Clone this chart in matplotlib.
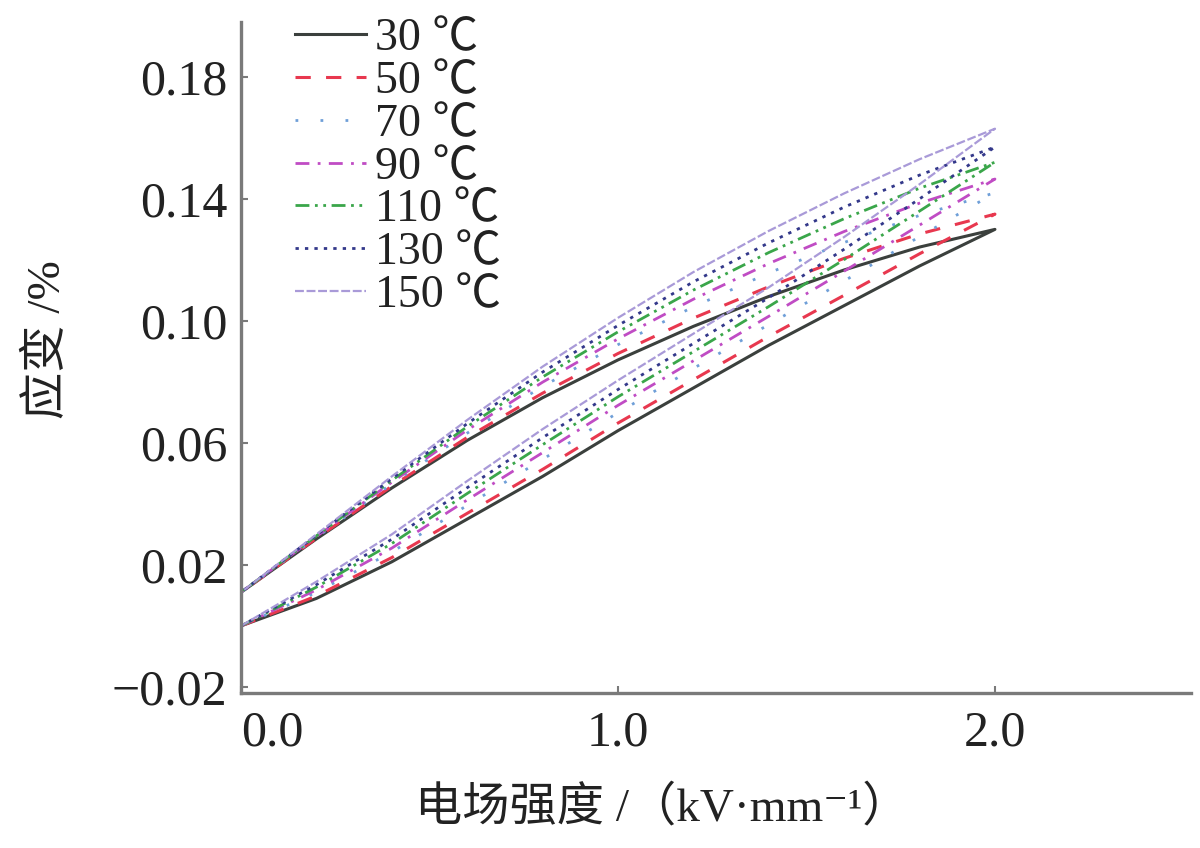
"""Strain vs electric field hysteresis loops at several temperatures."""
import matplotlib
matplotlib.use("Agg")
import matplotlib.pyplot as plt

plt.rcParams["font.family"] = ["Liberation Serif", "Noto Sans CJK SC", "DejaVu Sans"]

# field strength (kV/mm), sampled along both branches
field = [0.0, 0.2, 0.4, 0.6, 0.8, 1.0, 1.2, 1.4, 1.6, 1.8, 2.0]

temps = ["30 ℃", "50 ℃", "70 ℃", "90 ℃", "110 ℃", "130 ℃", "150 ℃"]

# rising-field branch (lower) and falling-field branch (upper), strain in %
lower_30 = [0.000, 0.009, 0.021, 0.035, 0.049, 0.064, 0.078, 0.092, 0.105, 0.118, 0.130]
upper_30 = [0.011, 0.0285, 0.0452, 0.0608, 0.0748, 0.0872, 0.0982, 0.1080, 0.1167, 0.1242, 0.130]
lower_50 = [0.000, 0.0098, 0.0224, 0.0369, 0.0513, 0.0665, 0.0807, 0.0949, 0.1084, 0.1220, 0.135]
upper_50 = [0.011, 0.0287, 0.0458, 0.0618, 0.0763, 0.0893, 0.1009, 0.1112, 0.1205, 0.1285, 0.135]
lower_70 = [0.000, 0.0110, 0.0242, 0.0395, 0.0546, 0.0699, 0.0844, 0.0988, 0.1131, 0.1276, 0.142]
upper_70 = [0.011, 0.0290, 0.0466, 0.0632, 0.0785, 0.0922, 0.1046, 0.1157, 0.1257, 0.1346, 0.142]
lower_90 = [0.000, 0.0118, 0.0255, 0.0413, 0.0568, 0.0723, 0.0869, 0.1015, 0.1163, 0.1314, 0.1465]
upper_90 = [0.011, 0.0293, 0.0471, 0.0642, 0.0799, 0.0941, 0.1071, 0.1188, 0.1293, 0.1386, 0.1465]
lower_110 = [0.000, 0.0127, 0.0270, 0.0434, 0.0594, 0.0751, 0.0899, 0.1047, 0.1201, 0.1360, 0.152]
upper_110 = [0.011, 0.0295, 0.0477, 0.0653, 0.0816, 0.0964, 0.1101, 0.1224, 0.1335, 0.1435, 0.152]
lower_130 = [0.000, 0.0135, 0.0284, 0.0453, 0.0617, 0.0775, 0.0926, 0.1076, 0.1235, 0.1400, 0.157]
upper_130 = [0.011, 0.0297, 0.0483, 0.0663, 0.0832, 0.0985, 0.1128, 0.1256, 0.1373, 0.1478, 0.157]
lower_150 = [0.000, 0.0145, 0.0300, 0.0475, 0.0645, 0.0805, 0.0958, 0.1110, 0.1275, 0.1448, 0.163]
upper_150 = [0.011, 0.0300, 0.0490, 0.0675, 0.0850, 0.1010, 0.1160, 0.1295, 0.1418, 0.1530, 0.163]

lowers = [lower_30, lower_50, lower_70, lower_90, lower_110, lower_130, lower_150]
uppers = [upper_30, upper_50, upper_70, upper_90, upper_110, upper_130, upper_150]

colors = ["#3b403d", "#e8384f", "#6f9fd8", "#c04cc4", "#3aa64a", "#33388a", "#a99ad8"]
dashes = [None, (5, 5), (1, 8), (5, 3, 1, 3), (5, 2, 1, 2, 1, 2), (1.2, 2.2), (4, 1.2)]
widths = [2.2, 2.2, 2.0, 2.0, 2.0, 2.0, 1.6]

yticks = [-0.02, 0.02, 0.06, 0.10, 0.14, 0.18]
xticks = [0.0, 1.0, 2.0]

fig = plt.figure(figsize=(12, 8.48), dpi=100)
ax = fig.add_axes([241 / 1200, 0.1828, 950 / 1200, 0.7913])

for lab, lo, up, c, d, w in zip(temps, lowers, uppers, colors, dashes, widths):
    xs = field + field[::-1]
    ys = lo + up[::-1]
    line, = ax.plot(xs, ys, color=c, lw=w, label=lab)
    if d is not None:
        line.set_dashes(d)

ax.set_xlim(0, 2.52)
ax.set_ylim(-0.022, 0.198)

for s in ("top", "right"):
    ax.spines[s].set_visible(False)
for s in ("left", "bottom"):
    ax.spines[s].set_color("#7a7a7a")
    ax.spines[s].set_linewidth(2.4)

ax.set_yticks(yticks)
ax.set_yticklabels([f"{v:.2f}".replace("-", "\u2212") for v in yticks])
ax.set_xticks(xticks)
ax.set_xticklabels([f"{v:.1f}" for v in xticks])
ax.xaxis.get_majorticklabels()[0].set_horizontalalignment("left")
ax.tick_params(direction="in", length=5, width=1.5, color="#7a7a7a",
               labelsize=36, labelcolor="#222222")
ax.tick_params(axis="y", pad=10)
ax.tick_params(axis="x", pad=12)

leg = ax.legend(loc="upper left", bbox_to_anchor=(295 / 1200, 1 - 18 / 848),
                bbox_transform=fig.transFigure, frameon=False, fontsize=33,
                handlelength=1.55, handletextpad=0.2, labelspacing=0.005,
                borderpad=0, borderaxespad=0)
for t in leg.get_texts():
    t.set_color("#222222")

fig.text(48 / 1200, 1 - 340 / 848, "应变 /%", rotation=90, ha="center",
         va="center", fontsize=34, color="#222222")
fig.text(662 / 1200, 1 - 808 / 848, "电场强度 /（kV·mm⁻¹）", ha="center",
         va="center", fontsize=34, color="#222222")

fig.savefig("out.png", dpi=100)
